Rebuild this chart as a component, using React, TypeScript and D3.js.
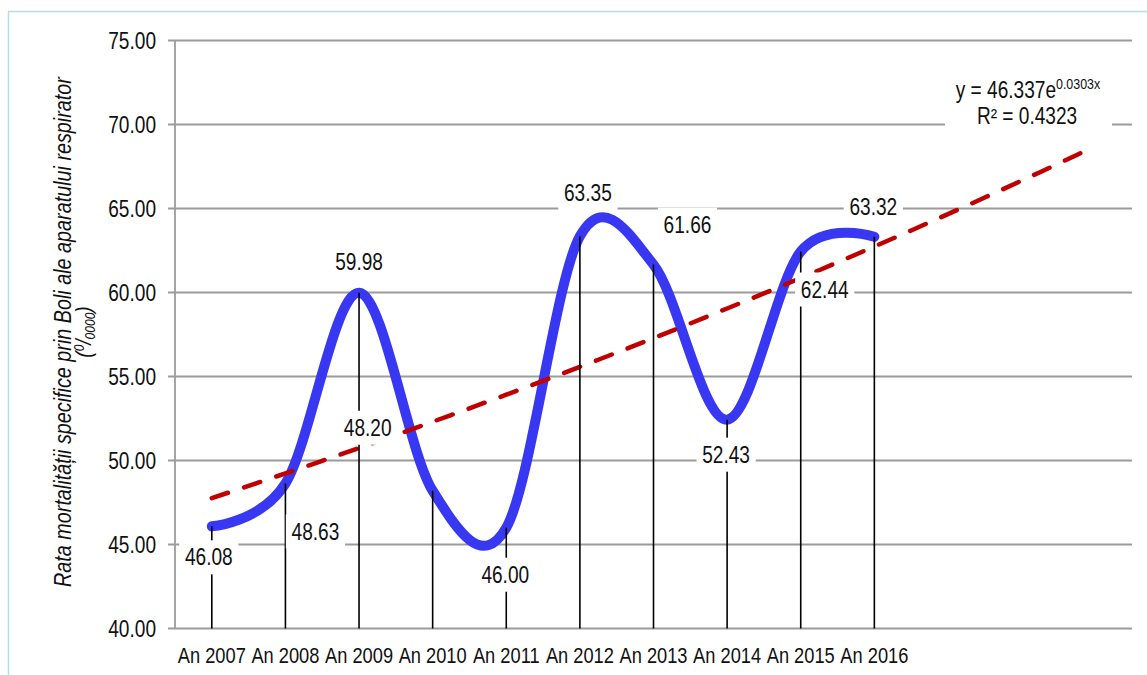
import React from "react";
import * as d3 from "d3";

const categories = ["An 2007", "An 2008", "An 2009", "An 2010", "An 2011", "An 2012", "An 2013", "An 2014", "An 2015", "An 2016"];
const values = [46.08, 48.63, 59.98, 48.2, 46.0, 63.35, 61.66, 52.43, 62.44, 63.32];
const yTicks = [40, 45, 50, 55, 60, 65, 70, 75];
const trendA = 46.337;
const trendB = 0.0303;
const trendPeriods = 13;
const eqText = "y = 46.337e";
const eqExp = "0.0303x";
const r2Text = "R² = 0.4323";
// label placement offsets (px) relative to each point
const labelDx = [-3, 30, 0, -65, -1, 8, 34, -1, 24, -1];
const labelDy = [31, 48, -31, -63, 47, -43, -40, 35, 38, -30];

const W = 1147;
const H = 675;
const FONT = "'Liberation Sans', Arial, sans-serif";
const SX = 0.83;

function NText(props: { x: number; y: number; size: number; anchor?: string; italic?: boolean; baseline?: string; rotate?: number; sx?: number; children: any }) {
  const { x, y, size, anchor = "middle", italic, baseline, rotate = 0, sx = SX, children } = props;
  return (
    <g transform={`translate(${x},${y}) rotate(${rotate}) scale(${sx},1)`}>
      <text x={0} y={0} textAnchor={anchor} dominantBaseline={baseline} fontFamily={FONT} fontStyle={italic ? "italic" : "normal"} fontSize={size} fill="#111">
        {children}
      </text>
    </g>
  );
}

export default function App() {
  const x = d3.scaleLinear().domain([0.5, trendPeriods + 0.5]).range([175, 1132]);
  const y = d3.scaleLinear().domain([40, 75]).range([628.5, 40.5]);

  const pts = values.map((v, i) => [x(i + 1), y(v)] as [number, number]);
  const smooth = d3.line<[number, number]>().x((d) => d[0]).y((d) => d[1]).curve(d3.curveCardinal.tension(0));

  const trendPts: [number, number][] = d3.range(1, trendPeriods + 0.001, 0.25).map((t) => [x(t), y(trendA * Math.exp(trendB * t))]);
  const straight = d3.line<[number, number]>().x((d) => d[0]).y((d) => d[1]);

  const fs = 23;
  const gridColor = "#9b9b9b";

  return (
    <svg width={W} height={H} style={{ position: "absolute", left: 0, top: 0, display: "block", background: "#fff" }}>
      <rect x={8.5} y={11.5} width={W + 10} height={H + 10} fill="#fff" stroke="#b5dde8" strokeWidth={1.5} />
      {/* gridlines */}
      {yTicks.map((t) => (
        <g key={t}>
          <line x1={168} x2={1132} y1={y(t)} y2={y(t)} stroke={gridColor} strokeWidth={1.8} />
          <NText x={156} y={y(t) + 8} size={fs} anchor="end">
            {t.toFixed(2)}
          </NText>
        </g>
      ))}
      <line x1={175} x2={175} y1={y(75)} y2={y(40)} stroke={gridColor} strokeWidth={1.8} />
      {/* category labels */}
      {categories.map((c, i) => (
        <NText key={c} x={x(i + 1)} y={663} size={22}>
          {c}
        </NText>
      ))}
      {/* smoothed series */}
      <path d={smooth(pts) || ""} fill="none" stroke="#3838f2" strokeWidth={10} strokeLinecap="round" strokeLinejoin="round" />
      {/* trendline */}
      <path d={straight(trendPts) || ""} fill="none" stroke="#c00000" strokeWidth={4.5} strokeDasharray="17 17" strokeLinecap="round" />
      {/* drop lines */}
      {pts.map((p, i) => (
        <line key={i} x1={p[0]} x2={p[0]} y1={p[1]} y2={y(40)} stroke="#000" strokeWidth={1.6} />
      ))}
      {/* data labels */}
      {values.map((v, i) => {
        const cx = pts[i][0] + labelDx[i];
        const cy = pts[i][1] + labelDy[i];
        const txt = v.toFixed(2);
        const w = (txt.length - 1) * 0.456 * fs + 0.228 * fs;
        return (
          <g key={i}>
            <rect x={cx - w / 2 - 6} y={cy - 17} width={w + 12} height={34} fill="#fff" />
            <NText x={cx} y={cy + 8} size={fs}>
              {txt}
            </NText>
          </g>
        );
      })}
      {/* trend equation */}
      <rect x={945} y={72} width={167} height={60} fill="#fff" />
      <NText x={1028} y={98} size={fs}>
        {eqText}
        <tspan fontSize={15} dy={-9}>{eqExp}</tspan>
      </NText>
      <NText x={1027} y={124} size={fs}>
        {r2Text}
      </NText>
      {/* y-axis title */}
      <NText x={71} y={332} size={23} italic rotate={-90} sx={0.86}>
        Rata mortalității specifice prin Boli ale aparatului respirator
      </NText>
      <NText x={91} y={332} size={22} italic rotate={-90} sx={0.86}>
        (<tspan fontSize={14} dy={-7}>0</tspan>
        <tspan dy={7}>/</tspan>
        <tspan fontSize={14} dy={4}>0000</tspan>
        <tspan dy={-4}>)</tspan>
      </NText>
    </svg>
  );
}
